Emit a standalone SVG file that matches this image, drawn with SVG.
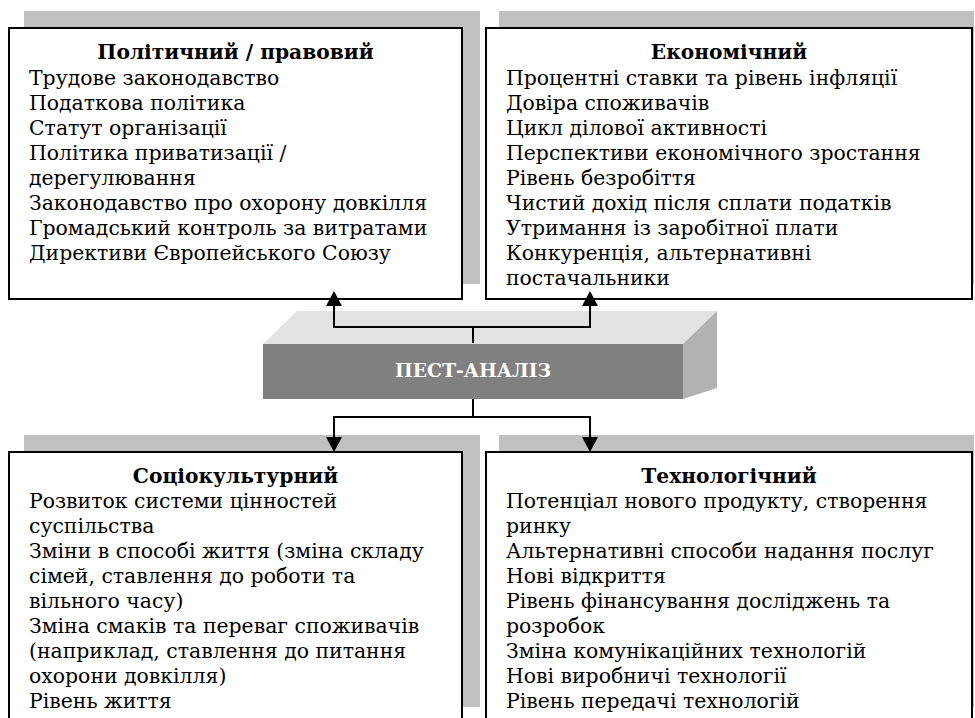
<svg xmlns="http://www.w3.org/2000/svg" width="975" height="718" viewBox="0 0 975 718">
<defs>
<style>
.shadow{fill:#c0c0c0;}
.box{fill:#ffffff;stroke:#000000;stroke-width:2;}
.t{font-family:"DejaVu Serif","Liberation Serif",serif;font-size:20.4px;fill:#000;}
.h{font-family:"DejaVu Serif","Liberation Serif",serif;font-size:20.2px;font-weight:bold;fill:#000;text-anchor:middle;}
.conn{fill:none;stroke:#000;stroke-width:2;}
.ctext{font-family:"DejaVu Serif","Liberation Serif",serif;font-size:18.8px;font-weight:bold;fill:#fff;text-anchor:middle;}
</style>
</defs>
<rect width="975" height="718" fill="#ffffff"/>

<g id="political">
<rect class="shadow" x="24" y="11" width="456" height="273"/>
<rect class="box" x="9" y="28" width="453" height="271"/>
<text class="h" x="235.5" y="59">Політичний / правовий</text>
<text class="t" x="29" y="85">Трудове законодавство</text>
<text class="t" x="29" y="110">Податкова політика</text>
<text class="t" x="29" y="135">Статут організації</text>
<text class="t" x="29" y="160">Політика приватизації /</text>
<text class="t" x="29" y="185">дерегулювання</text>
<text class="t" x="29" y="210">Законодавство про охорону довкілля</text>
<text class="t" x="29" y="235">Громадський контроль за витратами</text>
<text class="t" x="29" y="260">Директиви Європейського Союзу</text>
</g>

<g id="economic">
<rect class="shadow" x="499" y="11" width="475" height="273"/>
<rect class="box" x="486" y="28" width="486" height="271"/>
<text class="h" x="729" y="59">Економічний</text>
<text class="t" x="506" y="85">Процентні ставки та рівень інфляції</text>
<text class="t" x="506" y="110">Довіра споживачів</text>
<text class="t" x="506" y="135">Цикл ділової активності</text>
<text class="t" x="506" y="160">Перспективи економічного зростання</text>
<text class="t" x="506" y="185">Рівень безробіття</text>
<text class="t" x="506" y="210">Чистий дохід після сплати податків</text>
<text class="t" x="506" y="235">Утримання із заробітної плати</text>
<text class="t" x="506" y="260">Конкуренція, альтернативні</text>
<text class="t" x="506" y="285">постачальники</text>
</g>

<g id="pest">
<polygon points="263,344 297,311 717,311 683,344" fill="#e3e3e3"/>
<polygon points="683,344 717,311 717,388 683,399" fill="#b2b2b2"/>
<rect x="263" y="344" width="420" height="55" fill="#808080"/>
<text class="ctext" x="473" y="377">ПЕСТ-АНАЛІЗ</text>
</g>

<g id="sociocultural">
<rect class="shadow" x="24" y="435" width="456" height="272"/>
<rect class="box" x="9" y="452" width="453" height="280"/>
<text class="h" x="235.5" y="483">Соціокультурний</text>
<text class="t" x="29" y="508">Розвиток системи цінностей</text>
<text class="t" x="29" y="533">суспільства</text>
<text class="t" x="29" y="558">Зміни в способі життя (зміна складу</text>
<text class="t" x="29" y="583">сімей, ставлення до роботи та</text>
<text class="t" x="29" y="608">вільного часу)</text>
<text class="t" x="29" y="633">Зміна смаків та переваг споживачів</text>
<text class="t" x="29" y="658">(наприклад, ставлення до питання</text>
<text class="t" x="29" y="683">охорони довкілля)</text>
<text class="t" x="29" y="708">Рівень життя</text>
</g>

<g id="technological">
<rect class="shadow" x="499" y="435" width="475" height="272"/>
<rect class="box" x="486" y="452" width="486" height="280"/>
<text class="h" x="729" y="483">Технологічний</text>
<text class="t" x="506" y="508">Потенціал нового продукту, створення</text>
<text class="t" x="506" y="533">ринку</text>
<text class="t" x="506" y="558">Альтернативні способи надання послуг</text>
<text class="t" x="506" y="583">Нові відкриття</text>
<text class="t" x="506" y="608">Рівень фінансування досліджень та</text>
<text class="t" x="506" y="633">розробок</text>
<text class="t" x="506" y="658">Зміна комунікаційних технологій</text>
<text class="t" x="506" y="683">Нові виробничі технології</text>
<text class="t" x="506" y="708">Рівень передачі технологій</text>
</g>

<g id="connectors">
<path class="conn" d="M473,343 V327 H334 V306"/>
<path class="conn" d="M473,327 H590 V306"/>
<path class="conn" d="M473,399 V417 H334 V437"/>
<path class="conn" d="M473,417 H590 V437"/>
<polygon points="334,291 326,306 342,306" fill="#000"/>
<polygon points="590,291 582,306 598,306" fill="#000"/>
<polygon points="334,452 326,437 342,437" fill="#000"/>
<polygon points="590,452 582,437 598,437" fill="#000"/>
</g>
</svg>
